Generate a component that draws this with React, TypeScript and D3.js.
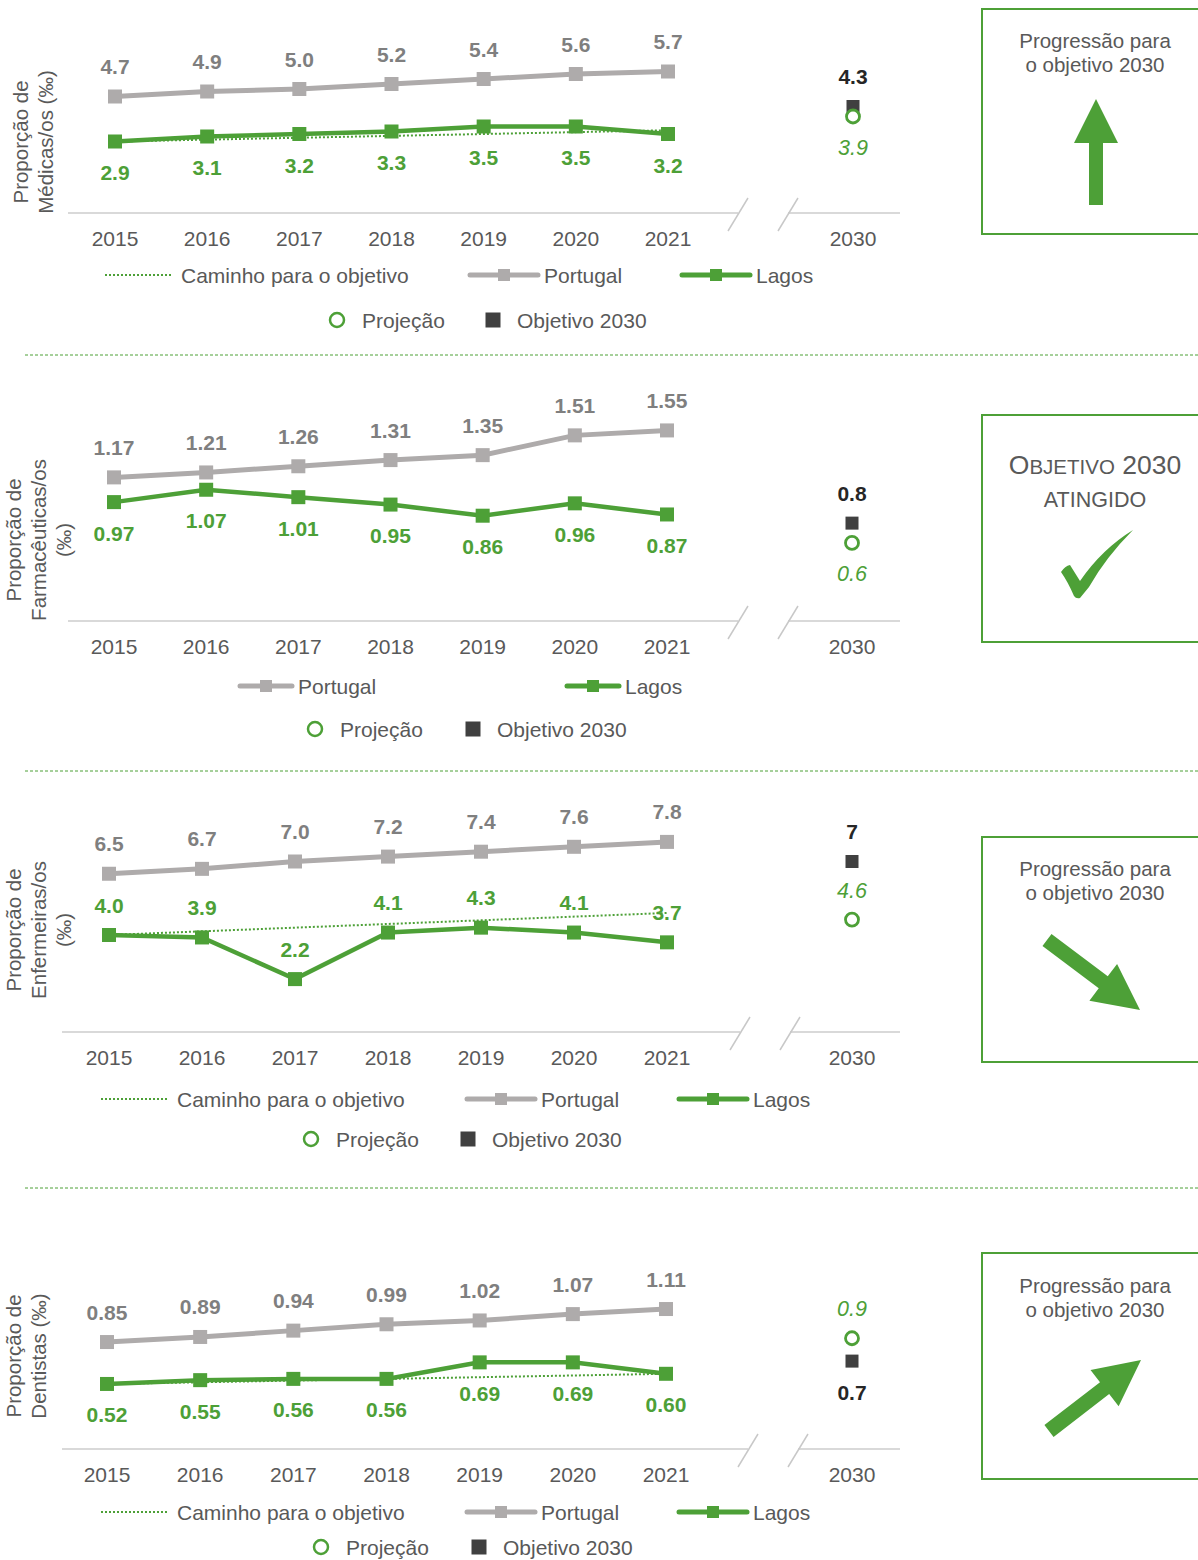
import React from "react";
import * as d3 from "d3";

// ---------- DATA ----------
const years = ["2015", "2016", "2017", "2018", "2019", "2020", "2021"];
const targetYear = "2030";

const medicasPortugal = [4.7, 4.9, 5.0, 5.2, 5.4, 5.6, 5.7];
const medicasLagos = [2.9, 3.1, 3.2, 3.3, 3.5, 3.5, 3.2];
const medicasTarget = 4.3;
const medicasProjection = 3.9;
const medicasPath = [2.9, 3.35];

const farmPortugal = [1.17, 1.21, 1.26, 1.31, 1.35, 1.51, 1.55];
const farmLagos = [0.97, 1.07, 1.01, 0.95, 0.86, 0.96, 0.87];
const farmTarget = 0.8;
const farmProjection = 0.64;

const enfPortugal = [6.5, 6.7, 7.0, 7.2, 7.4, 7.6, 7.8];
const enfLagos = [4.0, 3.9, 2.2, 4.1, 4.3, 4.1, 3.7];
const enfTarget = 7;
const enfProjection = 4.63;
const enfPath = [4.0, 4.9];

const dentPortugal = [0.85, 0.89, 0.94, 0.99, 1.02, 1.07, 1.11];
const dentLagos = [0.52, 0.55, 0.56, 0.56, 0.69, 0.69, 0.6];
const dentTarget = 0.7;
const dentProjection = 0.88;
const dentPath = [0.52, 0.6];

const legendPath = "Caminho para o objetivo";
const legendPortugal = "Portugal";
const legendLagos = "Lagos";
const legendProjection = "Projeção";
const legendTarget = "Objetivo 2030";

// ---------- STYLE ----------
const GREEN = "#4da037";
const GRAY_LINE = "#aeabab";
const GRAY_LABEL = "#7f7f7f";
const TEXT = "#595959";
const DARK = "#404040";
const FONT = "'Liberation Sans', Arial, Helvetica, sans-serif";
const FS_LABEL = 21;
const FS_TICK = 21;
const FS_LEGEND = 21;
const FS_TITLE = 20.5;
const FS_BOX = 20.5;

type PanelCfg = {
  titleLines: string[];
  titleX: number[];
  titleY: number;
  portugal: number[];
  lagos: number[];
  target: number;
  projection: number;
  path?: number[];
  fmt: string;
  y0: number;
  yTop: number;
  yMax: number;
  x0: number;
  x1: number;
  x2030: number;
  axisStart: number;
  breakA: number;
  breakB: number;
  lagosAbove: boolean;
  targetAbove: boolean;
  projAbove: boolean;
  legendRow1: number;
  legendRow2: number;
  legendPathX?: number;
  legendPortX: number;
  legendLagosX: number;
  legendLineLen: number;
  legendProjX: number;
  legendTargetX: number;
};

const panels: PanelCfg[] = [
  {
    titleLines: ["Proporção de", "Médicas/os (‰)"],
    titleX: [20, 45],
    titleY: 142,
    portugal: medicasPortugal,
    lagos: medicasLagos,
    target: medicasTarget,
    projection: medicasProjection,
    path: medicasPath,
    fmt: ".1f",
    y0: 214,
    yTop: 14,
    yMax: 8,
    x0: 115,
    x1: 668,
    x2030: 853,
    axisStart: 68,
    breakA: 738,
    breakB: 788,
    lagosAbove: false,
    targetAbove: true,
    projAbove: false,
    legendRow1: 275,
    legendRow2: 320,
    legendPathX: 105,
    legendPortX: 468,
    legendLagosX: 680,
    legendLineLen: 72,
    legendProjX: 337,
    legendTargetX: 493,
  },
  {
    titleLines: ["Proporção de", "Farmacêuticas/os", "(‰)"],
    titleX: [13, 38, 63],
    titleY: 540,
    portugal: farmPortugal,
    lagos: farmLagos,
    target: farmTarget,
    projection: farmProjection,
    fmt: ".2f",
    y0: 622,
    yTop: 622 - 1.8 * 123.6,
    yMax: 1.8,
    x0: 114,
    x1: 667,
    x2030: 852,
    axisStart: 68,
    breakA: 738,
    breakB: 788,
    lagosAbove: false,
    targetAbove: true,
    projAbove: false,
    legendRow1: 686,
    legendRow2: 729,
    legendPortX: 238,
    legendLagosX: 565,
    legendLineLen: 56,
    legendProjX: 315,
    legendTargetX: 473,
  },
  {
    titleLines: ["Proporção de", "Enfermeiras/os", "(‰)"],
    titleX: [13, 38, 63],
    titleY: 930,
    portugal: enfPortugal,
    lagos: enfLagos,
    target: enfTarget,
    projection: enfProjection,
    path: enfPath,
    fmt: ".1f",
    y0: 1033,
    yTop: 1033 - 9 * 24.5,
    yMax: 9,
    x0: 109,
    x1: 667,
    x2030: 852,
    axisStart: 62,
    breakA: 740,
    breakB: 790,
    lagosAbove: true,
    targetAbove: true,
    projAbove: true,
    legendRow1: 1099,
    legendRow2: 1139,
    legendPathX: 101,
    legendPortX: 465,
    legendLagosX: 677,
    legendLineLen: 72,
    legendProjX: 311,
    legendTargetX: 468,
  },
  {
    titleLines: ["Proporção de", "Dentistas (‰)"],
    titleX: [13, 38],
    titleY: 1356,
    portugal: dentPortugal,
    lagos: dentLagos,
    target: dentTarget,
    projection: dentProjection,
    path: dentPath,
    fmt: ".2f",
    y0: 1450,
    yTop: 1450 - 1.4 * 127,
    yMax: 1.4,
    x0: 107,
    x1: 666,
    x2030: 852,
    axisStart: 62,
    breakA: 748,
    breakB: 798,
    lagosAbove: false,
    targetAbove: false,
    projAbove: true,
    legendRow1: 1512,
    legendRow2: 1547,
    legendPathX: 101,
    legendPortX: 465,
    legendLagosX: 677,
    legendLineLen: 72,
    legendProjX: 321,
    legendTargetX: 479,
  },
];

function Panel({ c }: { c: PanelCfg }) {
  const x = d3.scalePoint<string>().domain(years).range([c.x0, c.x1]);
  const y = d3.scaleLinear().domain([0, c.yMax]).range([c.y0, c.yTop]);
  const fmt = d3.format(c.fmt);
  const fmt1 = d3.format(".1f");
  const line = d3
    .line<number>()
    .x((_, i) => x(years[i]) as number)
    .y((d) => y(d));
  const axisY = c.y0 - 1;
  const off = 31;
  return (
    <g>
      {c.titleLines.map((t, i) => (
        <text
          key={i}
          transform={`translate(${c.titleX[i]},${c.titleY}) rotate(-90)`}
          textAnchor="middle"
          dominantBaseline="central"
          fontSize={FS_TITLE}
          fill={TEXT}
        >
          {t}
        </text>
      ))}
      <line x1={c.axisStart} x2={c.breakA} y1={axisY} y2={axisY} stroke="#d9d9d9" strokeWidth={2} />
      <line x1={c.breakB} x2={900} y1={axisY} y2={axisY} stroke="#d9d9d9" strokeWidth={2} />
      {[c.breakA, c.breakB].map((bx, i) => (
        <line key={i} x1={bx - 10} y1={axisY + 18} x2={bx + 10} y2={axisY - 15} stroke="#c8c8c8" strokeWidth={1.5} />
      ))}
      {years.map((yr) => (
        <text key={yr} x={x(yr)} y={axisY + 25} textAnchor="middle" dominantBaseline="central" fontSize={FS_TICK} fill={TEXT}>
          {yr}
        </text>
      ))}
      <text x={c.x2030} y={axisY + 25} textAnchor="middle" dominantBaseline="central" fontSize={FS_TICK} fill={TEXT}>
        {targetYear}
      </text>
      {c.path && (
        <line
          x1={x(years[0])}
          x2={x(years[years.length - 1])}
          y1={y(c.path[0])}
          y2={y(c.path[1])}
          stroke={GREEN}
          strokeWidth={2}
          strokeDasharray="2,2"
        />
      )}
      <path d={line(c.portugal) || ""} fill="none" stroke={GRAY_LINE} strokeWidth={5} />
      {c.portugal.map((v, i) => (
        <g key={i}>
          <rect x={(x(years[i]) as number) - 7} y={y(v) - 7} width={14} height={14} fill={GRAY_LINE} />
          <text x={x(years[i])} y={y(v) - 30} textAnchor="middle" dominantBaseline="central" fontSize={FS_LABEL} fontWeight="bold" fill={GRAY_LABEL}>
            {fmt(v)}
          </text>
        </g>
      ))}
      <path d={line(c.lagos) || ""} fill="none" stroke={GREEN} strokeWidth={4.5} />
      {c.lagos.map((v, i) => (
        <g key={i}>
          <rect x={(x(years[i]) as number) - 7} y={y(v) - 7} width={14} height={14} fill={GREEN} />
          <text
            x={x(years[i])}
            y={y(v) + (c.lagosAbove ? -30 : off)}
            textAnchor="middle"
            dominantBaseline="central"
            fontSize={FS_LABEL}
            fontWeight="bold"
            fill={GREEN}
          >
            {fmt(v)}
          </text>
        </g>
      ))}
      <rect x={c.x2030 - 6.5} y={y(c.target) - 6.5} width={13} height={13} fill={DARK} />
      <text
        x={c.x2030}
        y={y(c.target) + (c.targetAbove ? -30 : off)}
        textAnchor="middle"
        dominantBaseline="central"
        fontSize={FS_LABEL}
        fontWeight="bold"
        fill="#262626"
      >
        {String(c.target)}
      </text>
      <circle cx={c.x2030} cy={y(c.projection)} r={6.5} fill="#fff" stroke={GREEN} strokeWidth={2.8} />
      <text
        x={c.x2030}
        y={y(c.projection) + (c.projAbove ? -29 : off)}
        textAnchor="middle"
        dominantBaseline="central"
        fontSize={21.5}
        fontStyle="italic"
        fill={GREEN}
      >
        {fmt1(c.projection)}
      </text>
      {c.legendPathX !== undefined && (
        <g>
          <line
            x1={c.legendPathX}
            x2={c.legendPathX + 68}
            y1={c.legendRow1}
            y2={c.legendRow1}
            stroke={GREEN}
            strokeWidth={2}
            strokeDasharray="2,2"
          />
          <text x={c.legendPathX + 76} y={c.legendRow1} dominantBaseline="central" fontSize={FS_LEGEND} fill={TEXT}>
            {legendPath}
          </text>
        </g>
      )}
      <g>
        <line
          x1={c.legendPortX + 2}
          x2={c.legendPortX + c.legendLineLen - 2}
          y1={c.legendRow1}
          y2={c.legendRow1}
          stroke={GRAY_LINE}
          strokeWidth={5}
          strokeLinecap="round"
        />
        <rect x={c.legendPortX + c.legendLineLen / 2 - 6} y={c.legendRow1 - 6} width={12} height={12} fill={GRAY_LINE} />
        <text x={c.legendPortX + c.legendLineLen + 4} y={c.legendRow1} dominantBaseline="central" fontSize={FS_LEGEND} fill={TEXT}>
          {legendPortugal}
        </text>
      </g>
      <g>
        <line
          x1={c.legendLagosX + 2}
          x2={c.legendLagosX + c.legendLineLen - 2}
          y1={c.legendRow1}
          y2={c.legendRow1}
          stroke={GREEN}
          strokeWidth={5}
          strokeLinecap="round"
        />
        <rect x={c.legendLagosX + c.legendLineLen / 2 - 6} y={c.legendRow1 - 6} width={12} height={12} fill={GREEN} />
        <text x={c.legendLagosX + c.legendLineLen + 4} y={c.legendRow1} dominantBaseline="central" fontSize={FS_LEGEND} fill={TEXT}>
          {legendLagos}
        </text>
      </g>
      <circle cx={c.legendProjX} cy={c.legendRow2} r={7} fill="#fff" stroke={GREEN} strokeWidth={2.5} />
      <text x={c.legendProjX + 25} y={c.legendRow2} dominantBaseline="central" fontSize={FS_LEGEND} fill={TEXT}>
        {legendProjection}
      </text>
      <rect x={c.legendTargetX - 7.5} y={c.legendRow2 - 7.5} width={15} height={15} fill={DARK} />
      <text x={c.legendTargetX + 24} y={c.legendRow2} dominantBaseline="central" fontSize={FS_LEGEND} fill={TEXT}>
        {legendTarget}
      </text>
    </g>
  );
}

function arrowPoints(tx: number, ty: number, hx: number, hy: number, shaftW: number, headW: number, headL: number) {
  const dx = hx - tx;
  const dy = hy - ty;
  const len = Math.hypot(dx, dy);
  const ux = dx / len;
  const uy = dy / len;
  const px = -uy;
  const py = ux;
  const bx = hx - ux * headL;
  const by = hy - uy * headL;
  const pts = [
    [tx + (px * shaftW) / 2, ty + (py * shaftW) / 2],
    [bx + (px * shaftW) / 2, by + (py * shaftW) / 2],
    [bx + (px * headW) / 2, by + (py * headW) / 2],
    [hx, hy],
    [bx - (px * headW) / 2, by - (py * headW) / 2],
    [bx - (px * shaftW) / 2, by - (py * shaftW) / 2],
    [tx - (px * shaftW) / 2, ty - (py * shaftW) / 2],
  ];
  return pts.map((p) => p.join(",")).join(" ");
}

function ProgressBox({ y, h, children }: { y: number; h: number; children: React.ReactNode }) {
  return (
    <g>
      <rect x={982} y={y} width={240} height={h} fill="#fff" stroke={GREEN} strokeWidth={2} />
      {children}
    </g>
  );
}

function ProgressText({ y }: { y: number }) {
  return (
    <text x={1095} y={y} textAnchor="middle" fontSize={FS_BOX} fill={TEXT}>
      <tspan x={1095} dy="0">Progressão para</tspan>
      <tspan x={1095} dy="24">o objetivo 2030</tspan>
    </text>
  );
}

export default function App() {
  return (
    <svg
      width={1198}
      height={1560}
      viewBox="0 0 1198 1560"
      style={{ position: "absolute", left: 0, top: 0, display: "block", background: "#fff" }}
      fontFamily={FONT}
    >
      <rect x={0} y={0} width={1198} height={1560} fill="#fff" />
      {[355, 771, 1188].map((sy) => (
        <line key={sy} x1={25} x2={1198} y1={sy} y2={sy} stroke={GREEN} strokeWidth={1} strokeDasharray="3,2" />
      ))}
      {panels.map((c, i) => (
        <Panel key={i} c={c} />
      ))}
      <ProgressBox y={9} h={225}>
        <ProgressText y={48} />
        <polygon points={arrowPoints(1096, 205, 1096, 99, 14, 44, 44)} fill={GREEN} />
      </ProgressBox>
      <ProgressBox y={415} h={227}>
        <text x={1095} y={474} textAnchor="middle" fill={TEXT}>
          <tspan fontSize={26.5}>O</tspan>
          <tspan fontSize={20.5}>BJETIVO</tspan>
          <tspan fontSize={26.5}> 2030</tspan>
        </text>
        <text x={1095} y={507} textAnchor="middle" fontSize={21.5} fill={TEXT}>
          ATINGIDO
        </text>
        <path
          d="M1061,572 Q1065,566 1070,565 L1080,581 Q1102,549 1133,530 Q1106,557 1089,587 L1080,598 Q1076,599 1074,596 Q1068,582 1061,572 Z"
          fill={GREEN}
        />
      </ProgressBox>
      <ProgressBox y={837} h={225}>
        <ProgressText y={876} />
        <polygon points={arrowPoints(1047, 940, 1140, 1010, 15, 46, 46)} fill={GREEN} />
      </ProgressBox>
      <ProgressBox y={1253} h={226}>
        <ProgressText y={1293} />
        <polygon points={arrowPoints(1049, 1431, 1141, 1360, 15, 46, 46)} fill={GREEN} />
      </ProgressBox>
    </svg>
  );
}
